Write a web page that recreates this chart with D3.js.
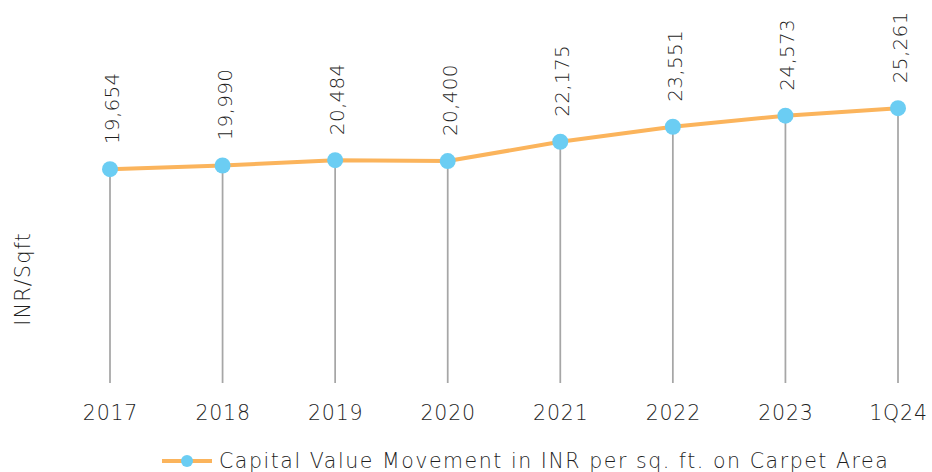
<!DOCTYPE html>
<html>
<head>
<meta charset="utf-8">
<script src="https://cdn.jsdelivr.net/npm/d3@7"></script>
<style>
  html, body { margin: 0; padding: 0; background: #fff; }
  svg { display: block; }
  text { font-family: "DejaVu Sans", sans-serif; font-weight: 200; fill: #1f1f1f; }
</style>
</head>
<body>
<svg id="chart" width="932" height="472"></svg>
<script>
// Capital value movement, INR per sq. ft. on carpet area
const periods = ["2017", "2018", "2019", "2020", "2021", "2022", "2023", "1Q24"];
const capitalValues = [19654, 19990, 20484, 20400, 22175, 23551, 24573, 25261];
const seriesName = "Capital Value Movement in INR per sq. ft. on Carpet Area";
const yTitle = "INR/Sqft";

const svg = d3.select("#chart");
const lineColor = "#fbb45c";
const markerColor = "#6bcdf3";
const dropColor = "#a6a6a6";
const textColor = "#1f1f1f";
const fontFamily = "'DejaVu Sans', sans-serif";

const x = d3.scalePoint().domain(periods).range([110, 898]);
const y = d3.scaleLinear().domain([0, 30000]).range([383, 56.6]);

const data = periods.map((p, i) => ({ p, v: capitalValues[i] }));

// drop lines from each point down to the baseline
svg.append("g").selectAll("line").data(data).join("line")
  .attr("x1", d => x(d.p)).attr("x2", d => x(d.p))
  .attr("y1", d => y(d.v)).attr("y2", y(0))
  .attr("stroke", dropColor).attr("stroke-width", 1.75);

// category axis (labels only)
const xAxis = svg.append("g").attr("transform", `translate(0,${y(0)})`)
  .call(d3.axisBottom(x).tickSize(0).tickPadding(22));
xAxis.select(".domain").remove();
xAxis.selectAll("text").attr("font-size", 20.5).attr("fill", textColor)
  .attr("font-family", fontFamily).attr("font-weight", 200)
  .attr("letter-spacing", 0.8);

// series line
svg.append("path").datum(data)
  .attr("fill", "none").attr("stroke", lineColor).attr("stroke-width", 4)
  .attr("stroke-linejoin", "round")
  .attr("d", d3.line().x(d => x(d.p)).y(d => y(d.v)));

// markers
svg.append("g").selectAll("circle").data(data).join("circle")
  .attr("cx", d => x(d.p)).attr("cy", d => y(d.v)).attr("r", 8)
  .attr("fill", markerColor);

// rotated value labels
const fmt = d3.format(",");
svg.append("g").selectAll("text").data(data).join("text")
  .attr("transform", d => `translate(${x(d.p) + 9},${y(d.v) - 25}) rotate(-90)`)
  .attr("font-size", 20)
  .attr("letter-spacing", 0.3)
  .attr("text-anchor", "start")
  .text(d => fmt(d.v));

// y-axis title
svg.append("text")
  .attr("transform", "translate(30,279) rotate(-90)")
  .attr("text-anchor", "middle")
  .attr("font-size", 21)
  .attr("letter-spacing", 1)
  .text(yTitle);

// legend
const lg = svg.append("g").attr("transform", "translate(162,461)");
lg.append("line").attr("x1", 0).attr("x2", 50).attr("y1", 0).attr("y2", 0)
  .attr("stroke", lineColor).attr("stroke-width", 4);
lg.append("circle").attr("cx", 25).attr("cy", 0).attr("r", 6).attr("fill", markerColor);
lg.append("text").attr("x", 57).attr("y", 7).attr("font-size", 20.5)
  .attr("letter-spacing", 1.55).text(seriesName);
</script>
</body>
</html>
